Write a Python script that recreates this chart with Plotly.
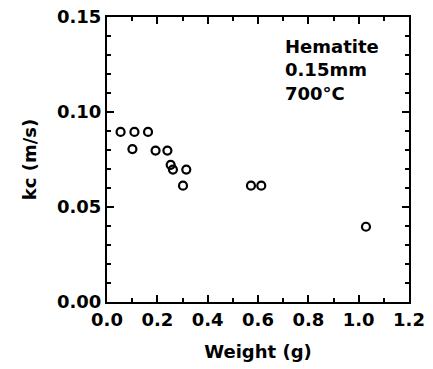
import plotly.graph_objects as go

weight_g = [0.054, 0.109, 0.163, 0.101, 0.193, 0.240, 0.253, 0.262, 0.315, 0.302, 0.572, 0.613, 1.029]
kc_m_s = [0.0895, 0.0895, 0.0895, 0.0805, 0.0797, 0.0797, 0.0722, 0.0697, 0.0697, 0.0612, 0.0612, 0.0612, 0.0396]

x_ticks = [0.0, 0.2, 0.4, 0.6, 0.8, 1.0, 1.2]
x_tick_labels = ["0.0", "0.2", "0.4", "0.6", "0.8", "1.0", "1.2"]
y_ticks = [0.00, 0.05, 0.10, 0.15]
y_tick_labels = ["0.00", "0.05", "0.10", "0.15"]

FONT = "DejaVu Sans"
FS = 18
FW = "bold"

fig = go.Figure()
fig.add_trace(go.Scatter(
    x=weight_g, y=kc_m_s, mode="markers",
    marker=dict(symbol="circle-open", size=8, color="black", line=dict(width=2.2, color="black")),
    showlegend=False,
))

axis_common = dict(
    showline=True, linecolor="black", linewidth=2, mirror="allticks",
    ticks="inside", ticklen=7, tickwidth=2, tickcolor="black",
    showgrid=False, zeroline=False, automargin=False,
    tickfont=dict(family=FONT, size=FS, color="black", weight=FW),
)

fig.update_xaxes(
    range=[0, 1.2], tickvals=x_ticks, ticktext=x_tick_labels,
    title=dict(text="Weight (g)", font=dict(family=FONT, size=FS, color="black", weight=FW), standoff=17),
    minor=dict(ticks="inside", ticklen=4, tickwidth=2, tickcolor="black", dtick=0.1, showgrid=False),
    **axis_common,
)
fig.update_yaxes(
    range=[0, 0.15], tickvals=y_ticks, ticktext=y_tick_labels,
    title=dict(text="kc (m/s)", font=dict(family=FONT, size=FS, color="black", weight=FW), standoff=16),
    minor=dict(ticks="inside", ticklen=4, tickwidth=2, tickcolor="black", dtick=0.01, showgrid=False),
    **axis_common,
)

fig.add_annotation(
    x=0.70, y=0.141, xref="x", yref="y", xanchor="left", yanchor="top",
    text="Hematite<br>0.15mm<br>700°C", showarrow=False, align="left",
    font=dict(family=FONT, size=FS, color="black", weight=FW),
)

fig.update_layout(
    width=433, height=369,
    margin=dict(l=107, r=24, t=17, b=67, autoexpand=False),
    plot_bgcolor="white", paper_bgcolor="white",
    font=dict(family=FONT, color="black"),
)

fig.write_html(
    "out.html",
    config={"displayModeBar": False},
    post_script="document.body.style.margin='0';document.body.style.overflow='hidden';",
)
